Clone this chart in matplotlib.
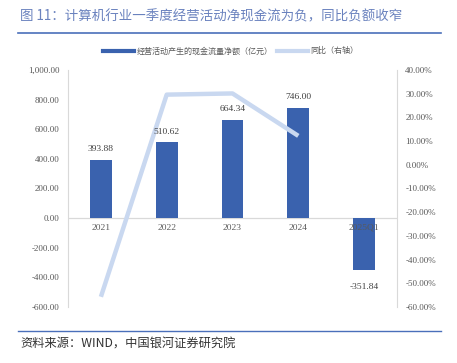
import numpy as np
import matplotlib.pyplot as plt
from matplotlib.lines import Line2D

plt.rcParams['font.family'] = ['Noto Sans CJK SC', 'DejaVu Sans']

# data
years = ["2021", "2022", "2023", "2024", "2025Q1"]
cash_flow = [393.88, 510.62, 664.34, 746.00, -351.84]
yoy = [-55.7, 29.6, 30.1, 12.2]   # %, right axis, no value for 2025Q1
left_ticks = [-600, -400, -200, 0, 200, 400, 600, 800, 1000]
right_ticks = [-60, -50, -40, -30, -20, -10, 0, 10, 20, 30, 40]

bar_color = "#3A62AE"
line_color = "#C9D8F0"
axis_color = "#D9D9D9"
num_font = "Liberation Serif"

fig = plt.figure(figsize=(4.57, 3.63), dpi=100)
ax = fig.add_axes([0.1488, 0.1543, 0.7199, 0.6529])
ax2 = ax.twinx()

x = np.arange(len(years))
ax.bar(x, cash_flow, width=0.33, color=bar_color, zorder=2)
ax.set_ylim(-600, 1000)
ax.set_xlim(-0.5, 4.5)
ax.set_yticks(left_ticks)
ax.set_yticklabels([f"{v:,.2f}" for v in left_ticks], fontsize=6.5,
                   color="#595959", fontfamily=num_font)
ax.set_xticks([])
ax.tick_params(axis='y', length=0, pad=6)
ax.axhline(0, color=axis_color, lw=0.9, zorder=1)

# category labels along the zero line (drawn over the bars)
for i, lab in enumerate(years):
    ax.annotate(lab, (i, 0), xytext=(0, -4), textcoords="offset points",
                ha="center", va="top", fontsize=6.8, color="#595959",
                fontfamily=num_font, zorder=4)

ax2.plot(x[:len(yoy)], yoy, color=line_color, lw=3.2, solid_capstyle="butt", zorder=3)
ax2.set_ylim(-60, 40)
ax2.set_yticks(right_ticks)
ax2.set_yticklabels([f"{v:.2f}%" for v in right_ticks], fontsize=6.5,
                    color="#595959", fontfamily=num_font)
ax2.tick_params(axis='y', length=0, pad=6)

# value labels above the line
for i, v in enumerate(cash_flow):
    off = 5 if v >= 0 else -9
    ax2.annotate(f"{v:.2f}", (i, v), xycoords=ax.transData, xytext=(0, off),
                 textcoords="offset points", ha="center",
                 va="bottom" if v >= 0 else "top", fontsize=6.8,
                 color="#404040", fontfamily=num_font, zorder=5)

for a in (ax, ax2):
    for s in ("top", "bottom"):
        a.spines[s].set_visible(False)
    a.spines["left"].set_color(axis_color)
    a.spines["right"].set_color(axis_color)
ax2.spines["left"].set_visible(False)
ax.spines["right"].set_visible(False)

# legend
handles = [Line2D([], [], color=bar_color, lw=3),
           Line2D([], [], color=line_color, lw=3)]
labels = ["经营活动产生的现金流量净额（亿元）", "同比（右轴）"]
fig.legend(handles, labels, loc="center", bbox_to_anchor=(0.505, 0.86), ncol=2,
           frameon=False, fontsize=5.8, handlelength=3.8, handletextpad=0.35,
           columnspacing=0.6, labelcolor="#595959")

# title and source
fig.text(0.044, 0.955, "图 11：计算机行业一季度经营活动净现金流为负，同比负额收窄",
         fontsize=9.7, color="#6A82BE", va="center")
fig.add_artist(Line2D([0.04, 0.966], [0.909, 0.909], color="#4A6FBA", lw=1.2))
fig.add_artist(Line2D([0.04, 0.966], [0.088, 0.088], color="#4A6FBA", lw=1.0))
fig.text(0.044, 0.052, "资料来源：WIND，中国银河证券研究院", fontsize=8.8,
         color="#333333", style="italic", va="center")

fig.savefig("out.png", dpi=100)
